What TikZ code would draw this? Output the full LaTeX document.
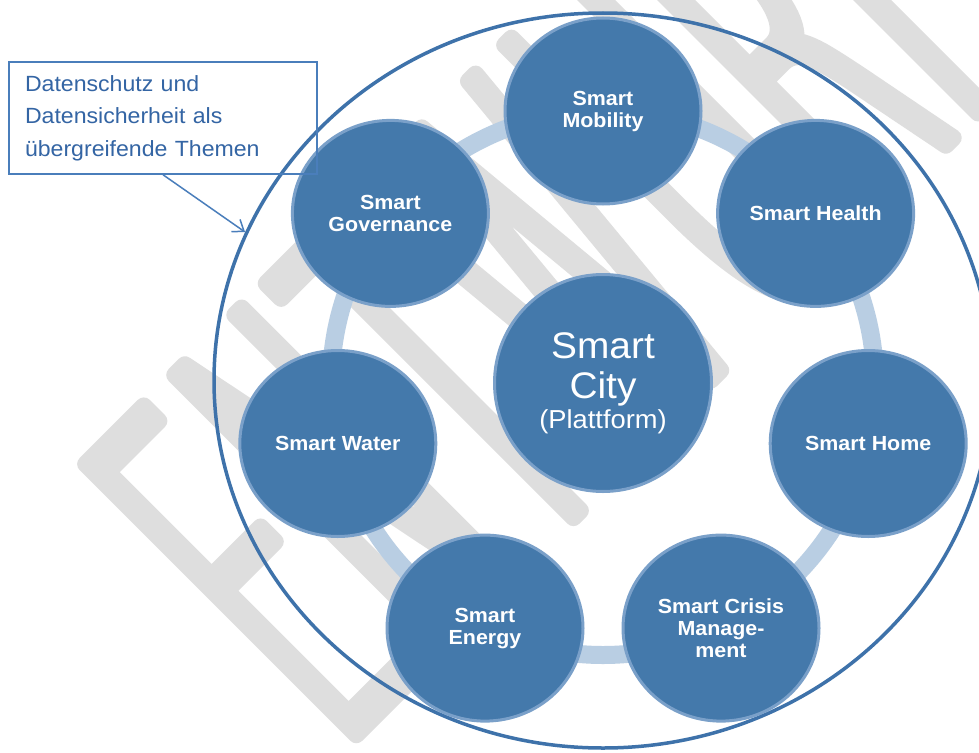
\documentclass[tikz,border=0pt]{standalone}
\usepackage{fontspec}
\setmainfont{Liberation Sans}[FakeStretch=1.05]
\IfFontExistsTF{DejaVuSans-ExtraLight.ttf}
    {\newfontfamily\wmfont{DejaVuSans-ExtraLight.ttf}[FakeStretch=0.38]}
    {\newfontfamily\wmfont{Liberation Sans}[FakeStretch=0.38]}
\usetikzlibrary{shapes.geometric,arrows.meta}

\definecolor{satblue}{RGB}{68,121,171}
\definecolor{satrim}{RGB}{122,160,201}
\definecolor{ringblue}{RGB}{185,206,227}
\definecolor{lineblue}{RGB}{62,114,170}
\definecolor{boxblue}{RGB}{74,126,187}
\definecolor{boxtext}{RGB}{52,101,164}
\definecolor{wmgray}{RGB}{222,222,222}

% thick round strokes round the glyphs
\newcommand\fatstroke[1]{\special{pdf:literal direct 2 Tr 17 w 1 j}#1\special{pdf:literal direct 0 Tr}}

\tikzset{
    sat/.style={ellipse, fill=satblue, draw=satrim, line width=3pt,
        minimum width=196pt, minimum height=186pt, inner sep=0pt,
        align=center, text=white, font=\bfseries\fontsize{20.4}{22}\selectfont},
    hub/.style={sat, minimum width=217pt, minimum height=217pt,
        font=\fontsize{37}{40}\selectfont},
    wmark/.style={rotate=45, anchor=base west, inner sep=0pt, text=wmgray,
        font=\wmfont\fontsize{525}{525}\selectfont},
    callbox/.style={draw=boxblue, line width=1.5pt, text=boxtext,
        minimum width=308pt, minimum height=112pt, text width=276pt,
        align=left, inner sep=0pt, font=\fontsize{22}{32.5}\selectfont}
}

\begin{document}
\begin{tikzpicture}[x=1pt, y=-1pt, >={Straight Barb[length=10pt,width=15pt]}]
    \fill[white] (0,0) rectangle (979,752);
    \useasboundingbox (0,0) rectangle (979,752);

    % watermark
    \node[wmark] (wm) at (339,752) {\fatstroke{ENTWURF}};

    % frame and cycle
    \node[ellipse, draw=lineblue, line width=3.5pt, minimum width=778pt,
        minimum height=735pt] (outer) at (603,380.5) {};
    \draw[ringblue, line width=18pt] (603,383) circle[radius=272];

    \node[hub] (city) at (603,383) {Smart\\City\\[-10pt]{\fontsize{26}{30}\selectfont(Plattform)}};

    \node[sat] (mobility)   at (603,111)   {Smart\\Mobility};
    \node[sat] (health)     at (815.6,213.4) {Smart Health};
    \node[sat] (home)       at (868.2,443.5) {Smart Home};
    \node[sat] (crisis)     at (721,628.1) {Smart Crisis\\Manage-\\ment};
    \node[sat] (energy)     at (485,628.1) {Smart\\Energy};
    \node[sat] (water)      at (337.8,443.5) {Smart Water};
    \node[sat] (governance) at (390.4,213.4) {Smart\\Governance};

    % callout
    \node[callbox] (callout) at (163,118) {Datenschutz und\\Datensicherheit als\\übergreifende Themen};
    \coordinate (tip) at (245,232);
    \draw[->, boxblue, line width=1.5pt] (callout.south) -- (tip);
\end{tikzpicture}
\end{document}
